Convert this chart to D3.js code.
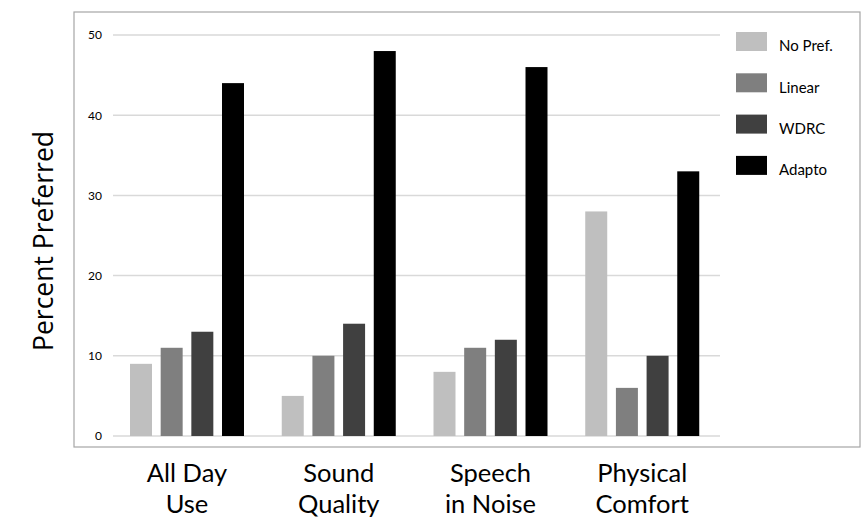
<!DOCTYPE html>
<html><head><meta charset="utf-8">
<script src="https://cdn.jsdelivr.net/npm/d3@7"></script>
<style>body{margin:0;background:#fff}</style>
</head><body>
<svg id="c" width="867" height="519"></svg>
<script>
const categories = [["All Day","Use"],["Sound","Quality"],["Speech","in Noise"],["Physical","Comfort"]];
const seriesNames = ["No Pref.","Linear","WDRC","Adapto"];
const seriesColors = ["#bfbfbf","#7f7f7f","#404040","#000000"];
const noPref = [9,5,8,28];
const linear = [11,10,11,6];
const wdrc = [13,14,12,10];
const adapto = [44,48,46,33];
const yTicks = [0,10,20,30,40,50];
const yLabel = "Percent Preferred";

const series = [noPref, linear, wdrc, adapto];
const svg = d3.select("#c");
const font = "Lato, 'Open Sans', sans-serif";

// frame
svg.append("rect").attr("x",74).attr("y",12).attr("width",786).attr("height",435)
  .attr("fill","none").attr("stroke","#a6a6a6").attr("stroke-width",1.2);

const y = d3.scaleLinear().domain([0,50]).range([436,35]);
const x0 = d3.scaleBand().domain(d3.range(categories.length)).range([113,720]);
const x1 = d3.scaleBand().domain(d3.range(series.length)).range([17,131]).paddingInner(0.283);

// grid
svg.append("g").selectAll("line").data(yTicks).join("line")
  .attr("x1",113).attr("x2",720).attr("y1",d=>y(d)).attr("y2",d=>y(d))
  .attr("stroke","#d9d9d9").attr("stroke-width",1.5);

// y axis labels
const yAxis = d3.axisLeft(y).tickValues(yTicks).tickSize(0).tickPadding(0);
const ga = svg.append("g").attr("transform","translate(102,0)").call(yAxis);
ga.select(".domain").remove();
ga.selectAll("text").attr("font-family",font).attr("font-size",12).attr("fill","#000");

// bars
categories.forEach((c,i)=>{
  const g = svg.append("g").attr("transform",`translate(${x0(i)},0)`);
  g.selectAll("rect").data(series.map((s,j)=>({j,v:s[i]}))).join("rect")
    .attr("x",d=>x1(d.j)).attr("width",x1.bandwidth())
    .attr("y",d=>y(d.v)).attr("height",d=>y(0)-y(d.v))
    .attr("fill",d=>seriesColors[d.j]);
  const t = svg.append("text").attr("text-anchor","middle").attr("font-family",font)
    .attr("font-size",25.5).attr("fill","#000");
  const cx = x0(i)+x1(0)+(x1(3)+x1.bandwidth()-x1(0))/2;
  c.forEach((line,k)=>{
    t.append("tspan").attr("x",cx).attr("y",482+k*31).text(line);
  });
});

// legend
const lg = svg.append("g");
seriesNames.forEach((n,j)=>{
  const yy = 32 + j*41.3;
  lg.append("rect").attr("x",736).attr("y",yy).attr("width",31).attr("height",19).attr("fill",seriesColors[j]);
  lg.append("text").attr("x",779).attr("y",yy+19.3).attr("font-family",font).attr("font-size",15)
    .attr("fill","#000").text(n);
});

// y label
svg.append("text").attr("transform","translate(53,241) rotate(-90)").attr("text-anchor","middle")
  .attr("font-family","'Open Sans', sans-serif").attr("font-size",26.5).attr("fill","#000").text(yLabel);
</script>
</body></html>
